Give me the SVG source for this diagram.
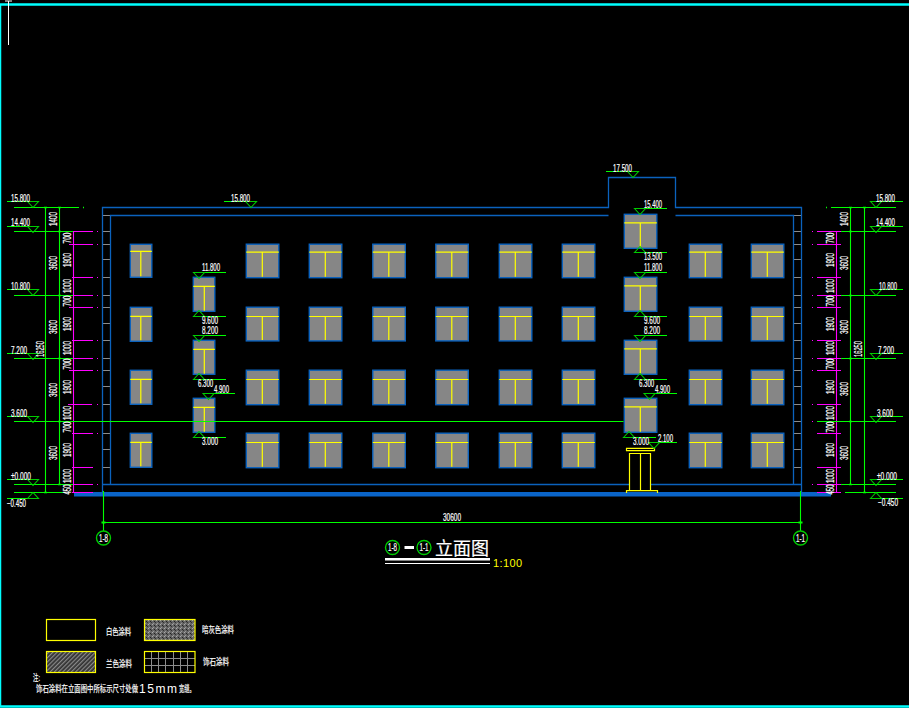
<svg xmlns="http://www.w3.org/2000/svg" width="909" height="708" viewBox="0 0 909 708">
<style>
text{fill:#fff;stroke:#fff;stroke-width:.2px;font-family:"Liberation Sans","Noto Sans CJK SC",sans-serif;font-size:10px}
.cj{font-family:"Noto Sans CJK SC",sans-serif;font-size:9px}
.g{stroke:#0f0;fill:none;stroke-width:1.100}
.t{stroke:#0c0;fill:none;stroke-width:1.100}
.m{stroke:#f0f;fill:none;stroke-width:1.100}
.b{stroke:#0b62bd;fill:none;stroke-width:1.300}
.y{stroke:#ff0;fill:none;stroke-width:1.200}
.w{fill:#868686;stroke:#0b62bd;stroke-width:1.400}
.gr{stroke:#8c8c8c;fill:none;stroke-width:1}
</style>
<defs>
<path id="td" class="t" d="M-5.500 0L0 6L5.500 0Z"/>
<path id="tu" class="t" d="M-5.500 0L0 -6L5.500 0Z"/>
<g id="n1"><rect class="w" width="21.500" height="33"/><path class="y" d="M0 7H21.500M10.500 7V32"/></g>
<g id="n2"><rect class="w" width="21.500" height="34"/><path class="y" d="M0 9H21.500M10.500 9V33"/></g>
<g id="w1"><rect class="w" width="32.500" height="33.500"/><path class="y" d="M0 8H32.500M16 8V32.500"/></g>
<g id="w2"><rect class="w" width="32.500" height="33.700"/><path class="y" d="M0 9.300H32.500M16 9.300V32.700"/></g>
<g id="w3"><rect class="w" width="32.500" height="34.500"/><path class="y" d="M0 9.300H32.500M16 9.300V33.500"/></g>
<g id="sn"><rect class="w" width="21.500" height="34"/><path class="y" d="M0 9H21.500M11 9V33.500"/></g>
<g id="sw"><rect class="w" width="32.500" height="34"/><path class="y" d="M0 8.500H32.500M16 8.500V33.500"/></g>
<pattern id="dark" width="4" height="4" patternUnits="userSpaceOnUse"><rect width="4" height="4" fill="#666"/><rect width="1" height="1" fill="#aaa"/><rect x="2" y="1" width="1" height="1" fill="#222"/><rect x="1" y="3" width="1" height="1" fill="#999"/><rect x="3" y="2" width="1" height="1" fill="#333"/></pattern>
<pattern id="hatch" width="3" height="3" patternUnits="userSpaceOnUse" patternTransform="rotate(-45)"><rect width="3" height="3" fill="#333"/><rect width="3" height="1.200" fill="#8a8a8a"/></pattern>
</defs>
<rect width="909" height="708" fill="#000"/>
<g id="frame">
<path d="M0 4.500H909M0 706.500H909" stroke="#0ff" stroke-width="2.500" fill="none"/>
<path d="M0.500 4V707" stroke="#0ff" stroke-width="1.500" fill="none"/>
<path d="M8.500 1V45M5 1H12" stroke="#fff" stroke-width="1" fill="none"/>
</g>
<g id="building">
<path class="gr" d="M103 215.500H110M103 231.500H110M103 244.500H110M103 259.500H110M103 277.500H110M103 295.500H110M103 307.500H110M103 323.500H110M103 340.500H110M103 358.500H110M103 370.500H110M103 386.500H110M103 404.500H110M103 421.500H110M103 433.500H110M103 449.500H110M103 467.500H110M794 215.500H801M794 231.500H801M794 244.500H801M794 259.500H801M794 277.500H801M794 295.500H801M794 307.500H801M794 323.500H801M794 340.500H801M794 358.500H801M794 370.500H801M794 386.500H801M794 404.500H801M794 421.500H801M794 433.500H801M794 449.500H801M794 467.500H801"/>
<path class="b" d="M102.500 492V207.500H608.500V177.500H675.500V207.500H801.500V492"/>
<path class="b" d="M110.500 485V215.500H608.500M675.500 215.500H793.500V485"/>
<path class="b" d="M103 484.500H630M651 484.500H801"/>
<rect x="74" y="492" width="757" height="4.500" fill="#0a64c8"/>
</g>
<g id="windows">
<use href="#n1" x="130.300" y="244.300"/><use href="#n2" x="130.300" y="307.300"/><use href="#n2" x="130.300" y="370.300"/><use href="#n2" x="130.300" y="433.300"/>
<use href="#w1" x="246.300" y="244.200"/><use href="#w1" x="309.300" y="244.200"/><use href="#w1" x="372.800" y="244.200"/><use href="#w1" x="435.800" y="244.200"/><use href="#w1" x="499.300" y="244.200"/><use href="#w1" x="562.300" y="244.200"/><use href="#w1" x="689.300" y="244.200"/><use href="#w1" x="751.300" y="244.200"/>
<use href="#w2" x="246.300" y="307.200"/><use href="#w2" x="309.300" y="307.200"/><use href="#w2" x="372.800" y="307.200"/><use href="#w2" x="435.800" y="307.200"/><use href="#w2" x="499.300" y="307.200"/><use href="#w2" x="562.300" y="307.200"/><use href="#w2" x="689.300" y="307.200"/><use href="#w2" x="751.300" y="307.200"/>
<use href="#w3" x="246.300" y="370.200"/><use href="#w3" x="309.300" y="370.200"/><use href="#w3" x="372.800" y="370.200"/><use href="#w3" x="435.800" y="370.200"/><use href="#w3" x="499.300" y="370.200"/><use href="#w3" x="562.300" y="370.200"/><use href="#w3" x="689.300" y="370.200"/><use href="#w3" x="751.300" y="370.200"/>
<use href="#w3" x="246.300" y="433.200"/><use href="#w3" x="309.300" y="433.200"/><use href="#w3" x="372.800" y="433.200"/><use href="#w3" x="435.800" y="433.200"/><use href="#w3" x="499.300" y="433.200"/><use href="#w3" x="562.300" y="433.200"/><use href="#w3" x="689.300" y="433.200"/><use href="#w3" x="751.300" y="433.200"/>
<use href="#sn" x="193.300" y="277.300"/><use href="#sn" x="193.300" y="340.300"/><use href="#sn" x="193.300" y="398.300"/>
<use href="#sw" x="624.300" y="214.300"/><use href="#sw" x="624.300" y="277.300"/><use href="#sw" x="624.300" y="340.300"/><use href="#sw" x="624.300" y="398.300"/>
</g>
<g id="door">
<path class="y" d="M626.500 448.300H654.500V450.700H626.500ZM629.500 490.700V453.500H650.500V490.700M640.500 453.500V490.700M626.500 493V490.700H657.500V493"/>
</g>
<g id="dim-left">
<path class="m" d="M73.500 231V492.500M72 231.500H93M69 244.500H93M72 277.500H93M72 295.500H93M69 307.500H93M72 340.500H93M72 358.500H93M69 370.500H93M68 404.500H92M72 433.500H93M72 467.500H93M72 484.500H93M72 492.500H93"/>
<path d="M97 231.500h1M97 244.500h1M97 277.500h1M97 295.500h1M97 307.500h1M97 340.500h1M97 358.500h1M97 370.500h1M97 404.500h1M97 433.500h1M97 484.500h1" stroke="#f0f"/>
<path class="g" d="M45.500 207V493M59.500 207V484.500M14 207.500H79M14 231.500H73M14 295.500H73M14 358.500H73M14 484.500H73M14 492.500H65M14 421.500H623.500"/>
<path d="M83 207.500h1M44 207.500h3M58 207.500h3M58 231.500h3M58 295.500h3M58 358.500h3M58 421.500h3M58 484.500h3M44 492.500h3" stroke="#0f0" stroke-width="1.500"/>
</g>
<g id="dim-right">
<path class="m" d="M836.500 231V492.500M817 231.500H841M817 244.500H841M817 277.500H841M817 295.500H841M817 307.500H841M817 340.500H841M817 358.500H841M817 370.500H841M817 404.500H841M817 433.500H841M817 467.500H841M817 484.500H841M817 492.500H841"/>
<path d="M812 231.500h1M812 244.500h1M812 277.500h1M812 295.500h1M812 307.500h1M812 340.500h1M812 358.500h1M812 370.500h1M812 404.500h1M812 421.500h1M812 484.500h1" stroke="#f0f"/>
<path class="g" d="M850.500 207V484.500M864.500 207V493M831 207.500H896M841 231.500H896M841 295.500H896M841 358.500H896M817 421.500H896M841 484.500H896M845 492.500H896"/>
<path d="M826 207.500h1M849 207.500h3M863 207.500h3M849 231.500h3M849 295.500h3M849 358.500h3M849 421.500h3M849 484.500h3M863 492.500h3" stroke="#0f0" stroke-width="1.500"/>
</g>
<g id="levels">
<path class="g" d="M7 201.500H39M7 226.500H39M7 289.500H39M7 353.500H39M7 416.500H39M7 479.500H39M7 498.500H39M870 201.500H903M870 226.500H903M870 289.500H903M870 353.500H903M870 416.500H903M870 479.500H903M870 498.500H903M224 201.500H257M606 171.500H639M635 208.500H667M635 252.500H667M635 272.500H667M635 316.500H667M635 335.500H667M635 379.500H667M644 393.500H677M623 437.500H656M648 442.500H677M193 272.500H226M193 316.500H226M193 335.500H226M193 379.500H226M203 393.500H235M193 437.500H226"/>
<use href="#td" x="33" y="201.500"/><use href="#td" x="33" y="226.500"/><use href="#td" x="33" y="289.500"/><use href="#td" x="33" y="353.500"/><use href="#td" x="33" y="416.500"/><use href="#td" x="33" y="479.500"/><use href="#tu" x="33" y="498.500"/>
<use href="#td" x="876" y="201.500"/><use href="#td" x="876" y="226.500"/><use href="#td" x="876" y="289.500"/><use href="#td" x="876" y="353.500"/><use href="#td" x="876" y="416.500"/><use href="#td" x="876" y="479.500"/><use href="#tu" x="876" y="498.500"/>
<use href="#td" x="251" y="201.500"/><use href="#td" x="633" y="171.500"/>
<use href="#td" x="640" y="208.500"/><use href="#tu" x="640" y="252.500"/><use href="#td" x="640" y="272.500"/><use href="#tu" x="640" y="316.500"/><use href="#td" x="640" y="335.500"/><use href="#tu" x="640" y="379.500"/><use href="#td" x="649.500" y="393.500"/><use href="#tu" x="629" y="437.500"/><use href="#td" x="654" y="442.500"/>
<use href="#td" x="199" y="272.500"/><use href="#tu" x="199" y="316.500"/><use href="#td" x="199" y="335.500"/><use href="#tu" x="199" y="379.500"/><use href="#td" x="208.500" y="393.500"/><use href="#tu" x="199" y="437.500"/>
<text x="11" y="201.500" textLength="19" lengthAdjust="spacingAndGlyphs">15.800</text>
<text x="11" y="226" textLength="19" lengthAdjust="spacingAndGlyphs">14.400</text>
<text x="11" y="289.500" textLength="19" lengthAdjust="spacingAndGlyphs">10.800</text>
<text x="11" y="353.500" textLength="16" lengthAdjust="spacingAndGlyphs">7.200</text>
<text x="11" y="416.500" textLength="16" lengthAdjust="spacingAndGlyphs">3.600</text>
<text x="11" y="479.500" textLength="20" lengthAdjust="spacingAndGlyphs">±0.000</text>
<text x="7" y="506.500" textLength="19" lengthAdjust="spacingAndGlyphs">−0.450</text>
<text x="876" y="201.500" textLength="19" lengthAdjust="spacingAndGlyphs">15.800</text>
<text x="876" y="226" textLength="19" lengthAdjust="spacingAndGlyphs">14.400</text>
<text x="879" y="289.500" textLength="18" lengthAdjust="spacingAndGlyphs">10.800</text>
<text x="878" y="353.500" textLength="16" lengthAdjust="spacingAndGlyphs">7.200</text>
<text x="877" y="416.500" textLength="16" lengthAdjust="spacingAndGlyphs">3.600</text>
<text x="877" y="479.500" textLength="20" lengthAdjust="spacingAndGlyphs">±0.000</text>
<text x="878" y="505.500" textLength="20" lengthAdjust="spacingAndGlyphs">−0.450</text>
<text x="231" y="201.500" textLength="19" lengthAdjust="spacingAndGlyphs">15.800</text>
<text x="613" y="171.500" textLength="19" lengthAdjust="spacingAndGlyphs">17.500</text>
<text x="644" y="207.500" textLength="18" lengthAdjust="spacingAndGlyphs">15.400</text>
<text x="644" y="260" textLength="18" lengthAdjust="spacingAndGlyphs">13.500</text>
<text x="644" y="270.500" textLength="18" lengthAdjust="spacingAndGlyphs">11.800</text>
<text x="644" y="323.500" textLength="16" lengthAdjust="spacingAndGlyphs">9.600</text>
<text x="644" y="333.500" textLength="16" lengthAdjust="spacingAndGlyphs">8.200</text>
<text transform="translate(639 386.500) scale(.61 1)">6.300</text>
<text transform="translate(655 392.500) scale(.6 1)">4.900</text>
<text x="633" y="444.500" textLength="16" lengthAdjust="spacingAndGlyphs">3.000</text>
<text x="658" y="442" textLength="15" lengthAdjust="spacingAndGlyphs">2.100</text>
<text x="202" y="270.500" textLength="18" lengthAdjust="spacingAndGlyphs">11.800</text>
<text x="202" y="323.500" textLength="16" lengthAdjust="spacingAndGlyphs">9.600</text>
<text x="202" y="333.500" textLength="16" lengthAdjust="spacingAndGlyphs">8.200</text>
<text transform="translate(198 386.500) scale(.61 1)">6.300</text>
<text transform="translate(214 392.500) scale(.6 1)">4.900</text>
<text x="202" y="444.500" textLength="16" lengthAdjust="spacingAndGlyphs">3.000</text>
</g>
<g id="dim-text" text-anchor="middle">
<text transform="translate(57 219) rotate(-90)" textLength="14" lengthAdjust="spacingAndGlyphs">1400</text>
<text transform="translate(57 263) rotate(-90)" textLength="14" lengthAdjust="spacingAndGlyphs">3600</text>
<text transform="translate(57 327) rotate(-90)" textLength="14" lengthAdjust="spacingAndGlyphs">3600</text>
<text transform="translate(57 390) rotate(-90)" textLength="14" lengthAdjust="spacingAndGlyphs">3600</text>
<text transform="translate(57 453) rotate(-90)" textLength="14" lengthAdjust="spacingAndGlyphs">3600</text>
<text transform="translate(44 349) rotate(-90)" textLength="16" lengthAdjust="spacingAndGlyphs">16250</text>
<text transform="translate(71 238) rotate(-90)" textLength="11" lengthAdjust="spacingAndGlyphs">700</text>
<text transform="translate(71 260) rotate(-90)" textLength="14" lengthAdjust="spacingAndGlyphs">1900</text>
<text transform="translate(71 286) rotate(-90)" textLength="14" lengthAdjust="spacingAndGlyphs">1000</text>
<text transform="translate(71 301) rotate(-90)" textLength="11" lengthAdjust="spacingAndGlyphs">700</text>
<text transform="translate(71 324) rotate(-90)" textLength="14" lengthAdjust="spacingAndGlyphs">1900</text>
<text transform="translate(71 348) rotate(-90)" textLength="14" lengthAdjust="spacingAndGlyphs">1000</text>
<text transform="translate(71 364) rotate(-90)" textLength="11" lengthAdjust="spacingAndGlyphs">700</text>
<text transform="translate(71 387) rotate(-90)" textLength="14" lengthAdjust="spacingAndGlyphs">1900</text>
<text transform="translate(71 413) rotate(-90)" textLength="14" lengthAdjust="spacingAndGlyphs">1000</text>
<text transform="translate(71 427) rotate(-90)" textLength="11" lengthAdjust="spacingAndGlyphs">700</text>
<text transform="translate(71 450) rotate(-90)" textLength="14" lengthAdjust="spacingAndGlyphs">1900</text>
<text transform="translate(71 476) rotate(-90)" textLength="14" lengthAdjust="spacingAndGlyphs">1000</text>
<text transform="translate(71 489.500) rotate(-90)" textLength="10" lengthAdjust="spacingAndGlyphs">450</text>
<text transform="translate(848 219) rotate(-90)" textLength="14" lengthAdjust="spacingAndGlyphs">1400</text>
<text transform="translate(848 263) rotate(-90)" textLength="14" lengthAdjust="spacingAndGlyphs">3600</text>
<text transform="translate(848 327) rotate(-90)" textLength="14" lengthAdjust="spacingAndGlyphs">3600</text>
<text transform="translate(848 389) rotate(-90)" textLength="14" lengthAdjust="spacingAndGlyphs">3600</text>
<text transform="translate(848 453) rotate(-90)" textLength="14" lengthAdjust="spacingAndGlyphs">3600</text>
<text transform="translate(862 349) rotate(-90)" textLength="16" lengthAdjust="spacingAndGlyphs">16250</text>
<text transform="translate(834 238) rotate(-90)" textLength="11" lengthAdjust="spacingAndGlyphs">700</text>
<text transform="translate(834 260) rotate(-90)" textLength="14" lengthAdjust="spacingAndGlyphs">1900</text>
<text transform="translate(834 286) rotate(-90)" textLength="14" lengthAdjust="spacingAndGlyphs">1000</text>
<text transform="translate(834 301) rotate(-90)" textLength="11" lengthAdjust="spacingAndGlyphs">700</text>
<text transform="translate(834 324) rotate(-90)" textLength="14" lengthAdjust="spacingAndGlyphs">1900</text>
<text transform="translate(834 348) rotate(-90)" textLength="14" lengthAdjust="spacingAndGlyphs">1000</text>
<text transform="translate(834 364) rotate(-90)" textLength="11" lengthAdjust="spacingAndGlyphs">700</text>
<text transform="translate(834 387) rotate(-90)" textLength="14" lengthAdjust="spacingAndGlyphs">1900</text>
<text transform="translate(834 413) rotate(-90)" textLength="14" lengthAdjust="spacingAndGlyphs">1000</text>
<text transform="translate(834 427) rotate(-90)" textLength="11" lengthAdjust="spacingAndGlyphs">700</text>
<text transform="translate(834 450) rotate(-90)" textLength="14" lengthAdjust="spacingAndGlyphs">1900</text>
<text transform="translate(834 476) rotate(-90)" textLength="14" lengthAdjust="spacingAndGlyphs">1000</text>
<text transform="translate(834 489.500) rotate(-90)" textLength="10" lengthAdjust="spacingAndGlyphs">450</text>
</g>
<g id="axes">
<path class="g" d="M103.500 491V531M800.500 491V531M103.500 522.500H800.500"/>
<path d="M101.500 522.500h4M798.500 522.500h4" stroke="#0f0" stroke-width="2"/>
<circle cx="103.500" cy="538" r="7" fill="none" stroke="#0c0" stroke-width="1.400"/>
<circle cx="800.500" cy="538" r="7" fill="none" stroke="#0c0" stroke-width="1.400"/>
<text x="103.500" y="541.500" text-anchor="middle" textLength="9" lengthAdjust="spacingAndGlyphs">1-8</text>
<text x="800.500" y="541.500" text-anchor="middle" textLength="9" lengthAdjust="spacingAndGlyphs">1-1</text>
<text x="452" y="521" text-anchor="middle" textLength="18" lengthAdjust="spacingAndGlyphs">30600</text>
</g>
<g id="title">
<circle cx="392.500" cy="547.500" r="7" fill="none" stroke="#0c0" stroke-width="1.400"/>
<circle cx="424" cy="547.500" r="7" fill="none" stroke="#0c0" stroke-width="1.400"/>
<text x="392.500" y="551" text-anchor="middle" textLength="9" lengthAdjust="spacingAndGlyphs">1-8</text>
<text x="424" y="551" text-anchor="middle" textLength="9" lengthAdjust="spacingAndGlyphs">1-1</text>
<path d="M404.500 547.500H414" stroke="#fff" stroke-width="3"/>
<text class="cj" x="435" y="554.500" style="font-size:18px">立面图</text>
<path d="M385 559.300H490" stroke="#fff" stroke-width="2.500"/>
<path d="M385 563.500H490" stroke="#fff" stroke-width="1"/>
<text x="493" y="566.500" style="fill:#ff0;stroke:none;font-size:11px" textLength="29">1:100</text>
</g>
<g id="legend">
<rect x="46.500" y="619.500" width="49" height="21" fill="none" stroke="#ff0" stroke-width="1.200"/>
<rect x="144.500" y="619.500" width="50.500" height="21" fill="url(#dark)" stroke="#ff0" stroke-width="1.200"/>
<rect x="46.500" y="651.500" width="49" height="21" fill="url(#hatch)" stroke="#ff0" stroke-width="1.200"/>
<path class="gr" d="M144.500 658.500H195M144.500 665.500H195M151.500 651.500V672.500M158.500 651.500V672.500M165.500 651.500V672.500M173.500 651.500V672.500M180.500 651.500V672.500M187.500 651.500V672.500"/>
<rect x="144.500" y="651.500" width="50.500" height="21" fill="none" stroke="#ff0" stroke-width="1.200"/>
<text class="cj" transform="translate(106 635) scale(.7 1)">白色涂料</text>
<text class="cj" transform="translate(202 633) scale(.71 1)">暗灰色涂料</text>
<text class="cj" transform="translate(106 667) scale(.72 1)">兰色涂料</text>
<text class="cj" transform="translate(203 665) scale(.72 1)">饰石涂料</text>
<text class="cj" transform="translate(33 681) scale(.6 1)">注:</text>
<text class="cj" transform="translate(36 692) scale(.71 1)">饰石涂料在立面图中所标示尺寸处做</text>
<text x="139" y="692.500" style="font-size:12px;stroke:none" textLength="38" lengthAdjust="spacing">15mm</text>
<text class="cj" transform="translate(179 692) scale(.58 1)">宽缝。</text>
</g>
</svg>
